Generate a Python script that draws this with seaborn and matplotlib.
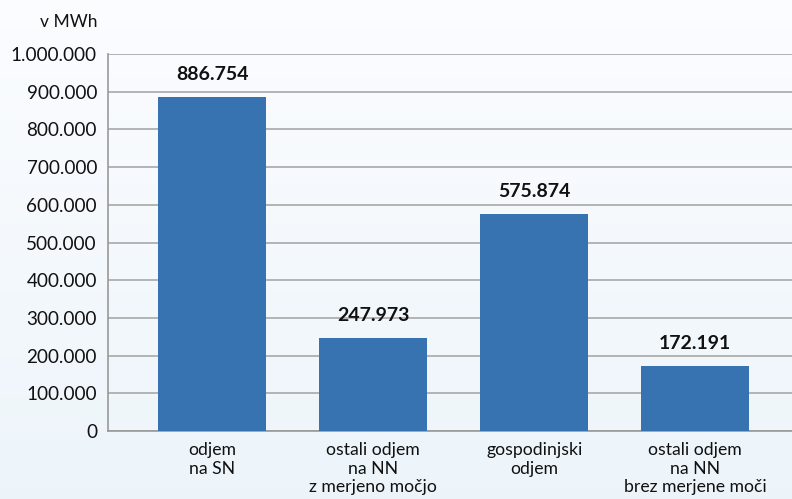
import numpy as np
import pandas as pd
import matplotlib
matplotlib.use('Agg')
import matplotlib.pyplot as plt
import seaborn as sns

# === DONNEES ===
kategorije = ["odjem\nna SN", "ostali odjem\nna NN\nz merjeno močjo",
              "gospodinjski\nodjem", "ostali odjem\nna NN\nbrez merjene moči"]
vrednosti = [886754, 247973, 575874, 172191]
y_ticks = [0, 100000, 200000, 300000, 400000, 500000, 600000, 700000, 800000, 900000, 1000000]
enota = "v MWh"

BARVA = "#3873b1"


def fmt(v):
    return f"{v:,.0f}".replace(",", ".")


sns.set_style("white")
plt.rcParams["font.family"] = ["Lato", "DejaVu Sans"]

df = pd.DataFrame({"kategorija": kategorije, "vrednost": vrednosti})

fig = plt.figure(figsize=(7.92, 4.99), dpi=100)

# ozadje z gradientom
bg = fig.add_axes([0, 0, 1, 1], zorder=-10)
grad = np.linspace(0, 1, 256).reshape(-1, 1)
top = np.array([0.985, 0.99, 1.0])
bot = np.array([0.93, 0.96, 0.98])
img = top + (bot - top) * grad[:, :, None]
bg.imshow(img, aspect="auto", extent=[0, 1, 0, 1], origin="upper")
bg.axis("off")

ax = fig.add_axes([108 / 792, 1 - 431 / 499, 1 - 108 / 792, (431 - 54) / 499])
ax.set_facecolor((1, 1, 1, 0))
sns.barplot(data=df, x="kategorija", y="vrednost", color=BARVA, width=0.67,
            saturation=1, edgecolor="none", linewidth=0, ax=ax, zorder=3)

ax.set_ylim(0, 1000000)
ax.set_xlim(-0.646, 3.60)
ax.set_yticks(y_ticks)
ax.set_yticklabels([fmt(t) for t in y_ticks], fontsize=13.6)
ax.yaxis.grid(True, color="#a8a8a8", linewidth=1.2, zorder=0)
ax.set_axisbelow(True)
ax.tick_params(axis="y", length=0, pad=8, labelcolor="#111111")
ax.tick_params(axis="x", length=0, pad=8, labelsize=12.7, labelcolor="#111111")
ax.set_xlabel("")
ax.set_ylabel("")
for s in ["top", "right"]:
    ax.spines[s].set_visible(False)
for s in ["left", "bottom"]:
    ax.spines[s].set_color("#999999")
    ax.spines[s].set_linewidth(1.2)

for i, v in enumerate(vrednosti):
    ax.annotate(fmt(v), (i, v), xytext=(0, 10), textcoords="offset points",
                ha="center", va="bottom", fontsize=14, fontweight="bold",
                color="#111111")

fig.text(97 / 792, 1 - 22 / 499, enota, ha="right", va="center", fontsize=12.5,
         color="#111111")

fig.savefig("out.png", dpi=100)
plt.close(fig)
